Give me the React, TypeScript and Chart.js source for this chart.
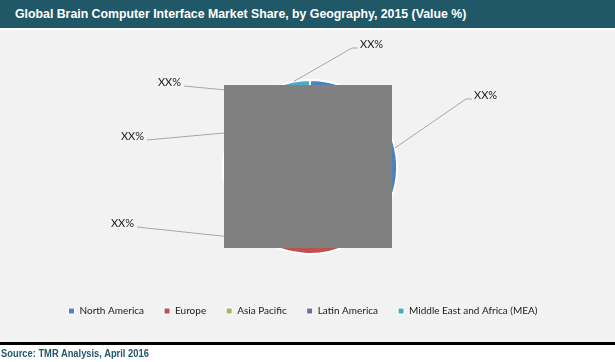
import React, { useEffect, useRef } from 'react';
import { Chart, registerables } from 'chart.js';

Chart.register(...registerables);

// ---- data ----
const TITLE = 'Global Brain Computer Interface Market Share, by Geography, 2015 (Value %)';
const SOURCE = 'Source: TMR Analysis, April 2016';
const REGIONS = ['North America', 'Europe', 'Asia Pacific', 'Latin America', 'Middle East and Africa (MEA)'];
const SHARES = [43, 32, 13, 6, 6];
const VALUE_LABELS = ['XX%', 'XX%', 'XX%', 'XX%', 'XX%'];
const COLORS = ['#4F81BD', '#C0504D', '#9BBB59', '#8064A2', '#4BACC6'];

// ---- layout (label placement relative to pie centre, mask box) ----
const LABEL_LAYOUT = [
  { dx: 164, dy: -72, side: 'right' },
  { dx: -176, dy: 56, side: 'left' },
  { dx: -166, dy: -31, side: 'left' },
  { dx: -129, dy: -85, side: 'left' },
  { dx: 50, dy: -123, side: 'right' },
];
const MASK = { left: -86, top: -82, width: 168, height: 163 };
const LEGEND_SHIFT = -7;

const leaderLabels = {
  id: 'leaderLabels',
  afterLayout(chart: any) {
    const lg = chart.legend;
    if (lg) {
      lg.left += LEGEND_SHIFT;
      lg.right += LEGEND_SHIFT;
    }
  },
  afterDatasetsDraw(chart: any) {
    const meta = chart.getDatasetMeta(0);
    const ctx = chart.ctx;
    ctx.save();
    ctx.font = '11px Lato';
    ctx.textBaseline = 'middle';
    meta.data.forEach((arc: any, i: number) => {
      const { x, y, startAngle, endAngle, outerRadius } = arc.getProps(
        ['x', 'y', 'startAngle', 'endAngle', 'outerRadius'],
        true
      );
      const mid = (startAngle + endAngle) / 2;
      const ex = x + outerRadius * Math.cos(mid);
      const ey = y + outerRadius * Math.sin(mid);
      const lay = LABEL_LAYOUT[i];
      const tx = x + lay.dx;
      const ty = y + lay.dy;
      ctx.strokeStyle = '#A6A6A6';
      ctx.lineWidth = 1;
      ctx.beginPath();
      if (lay.side === 'right') {
        ctx.moveTo(ex, ey);
        ctx.lineTo(tx - 8, ty + 4);
        ctx.lineTo(tx - 2, ty + 4);
        ctx.textAlign = 'left';
      } else {
        ctx.moveTo(tx + 3, ty + 4);
        ctx.lineTo(ex, ey);
        ctx.textAlign = 'right';
      }
      ctx.stroke();
      ctx.fillStyle = '#1a1a1a';
      ctx.fillText(VALUE_LABELS[i], tx, ty);
    });
    ctx.restore();
  },
  afterDraw(chart: any) {
    const arc = chart.getDatasetMeta(0).data[0];
    if (!arc) return;
    const { x, y } = arc.getProps(['x', 'y'], true);
    const ctx = chart.ctx;
    ctx.save();
    ctx.fillStyle = '#808080';
    ctx.fillRect(x + MASK.left, y + MASK.top, MASK.width, MASK.height);
    ctx.restore();
  },
};

export default function App() {
  const ref = useRef<HTMLCanvasElement | null>(null);

  useEffect(() => {
    if (!ref.current) return;
    const baseGen = (Chart as any).overrides.doughnut.plugins.legend.labels.generateLabels;
    const chart = new Chart(ref.current, {
      type: 'pie',
      data: {
        labels: REGIONS,
        datasets: [
          {
            data: SHARES,
            backgroundColor: COLORS,
            borderColor: '#FFFFFF',
            borderWidth: 2,
            radius: 87,
          } as any,
        ],
      },
      options: {
        animation: false,
        responsive: false,
        maintainAspectRatio: false,
        layout: { padding: { top: 18, bottom: 17, left: 5, right: 0 } },
        plugins: {
          tooltip: { enabled: false },
          legend: {
            position: 'bottom',
            align: 'center',
            labels: {
              boxWidth: 6,
              boxHeight: 6,
              padding: 20,
              color: '#1a1a1a',
              font: { family: 'Lato', size: 10 },
              generateLabels: (c: any) =>
                baseGen(c).map((l: any) => ({ ...l, lineWidth: 1, strokeStyle: '#FFFFFF' })),
            },
          },
        },
      },
      plugins: [leaderLabels],
    });
    return () => chart.destroy();
  }, []);

  const font = '"Liberation Sans", Arial, sans-serif';
  return (
    <div style={{ position: 'fixed', left: 0, top: 0, width: 615, height: 362, background: '#FFFFFF', overflow: 'hidden' }}>
      <div
        style={{
          position: 'absolute', left: 0, top: 0, width: 615, height: 28, background: '#215868',
        }}
      >
        <span
          style={{
            position: 'absolute', left: 15, top: 0, color: '#FFFFFF', fontFamily: font, fontWeight: 'bold',
            fontSize: 13, lineHeight: '28px', whiteSpace: 'nowrap', display: 'inline-block',
            transform: 'scaleX(0.947)', transformOrigin: 'left center',
          }}
        >
          {TITLE}
        </span>
      </div>
      <div style={{ position: 'absolute', left: 0, top: 30, width: 615, height: 313, background: '#F2F2F2' }}>
        <canvas ref={ref} width={615} height={313} style={{ display: 'block', width: 615, height: 313 }} />
      </div>
      <div style={{ position: 'absolute', left: 0, top: 342, width: 615, height: 3, background: '#000000' }} />
      <span
        style={{
          position: 'absolute', left: 1, top: 346, color: '#215868', fontFamily: font,
          fontWeight: 'bold', fontSize: 10.5, lineHeight: '14px', whiteSpace: 'nowrap', display: 'inline-block',
          transform: 'scaleX(0.89)', transformOrigin: 'left center',
        }}
      >
        {SOURCE}
      </span>
    </div>
  );
}
